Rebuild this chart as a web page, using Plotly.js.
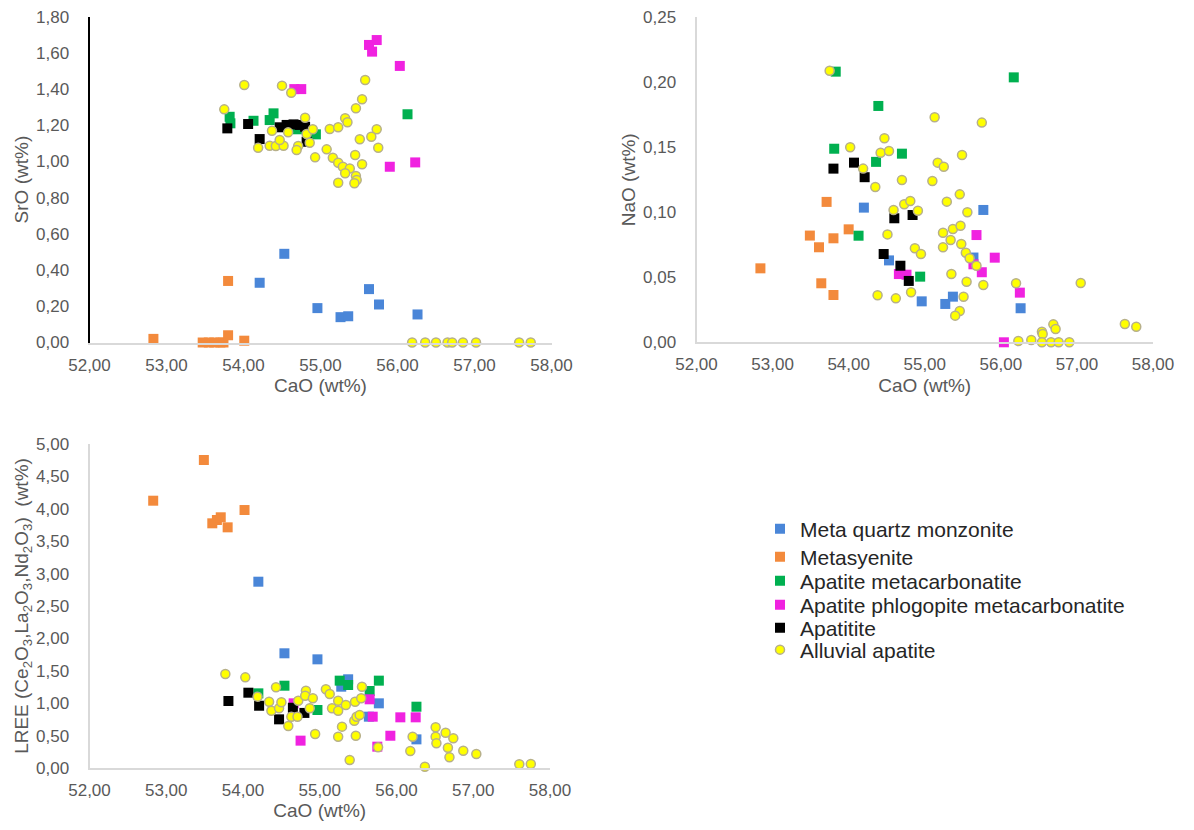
<!DOCTYPE html>
<html>
<head>
<meta charset="utf-8">
<script src="https://cdn.plot.ly/plotly-3.0.1.min.js"></script>
<style>
  html, body { margin: 0; padding: 0; background: #ffffff; }
  #chart { width: 1194px; height: 830px; }
</style>
</head>
<body>
<div id="chart"></div>
<script>
// ---------- series names ----------
const seriesNames = ['Meta quartz monzonite', 'Metasyenite', 'Apatite metacarbonatite',
  'Apatite phlogopite metacarbonatite', 'Apatitite', 'Alluvial apatite'];

// ---------- tick values ----------
const caoTicks = [52, 53, 54, 55, 56, 57, 58];
const sroTicks = [0, 0.2, 0.4, 0.6, 0.8, 1.0, 1.2, 1.4, 1.6, 1.8];
const naoTicks = [0, 0.05, 0.10, 0.15, 0.20, 0.25];
const lreeTicks = [0, 0.5, 1.0, 1.5, 2.0, 2.5, 3.0, 3.5, 4.0, 4.5, 5.0];

// ---------- SrO vs CaO ----------
const sroMqmCaO = [54.21, 54.53, 54.96, 55.26, 55.36, 55.63, 55.76, 56.26];
const sroMqm    = [0.33, 0.49, 0.19, 0.14, 0.145, 0.295, 0.21, 0.155];
const sroMsyCaO = [52.83, 53.47, 53.55, 53.62, 53.70, 53.74, 53.80, 53.80, 54.01];
const sroMsy    = [0.02, 0, 0, 0, 0, 0, 0.04, 0.34, 0.01];
const sroAmcCaO = [53.82, 53.83, 54.13, 54.39, 54.34, 54.70, 54.94, 56.13];
const sroAmc    = [1.247, 1.211, 1.225, 1.266, 1.229, 1.178, 1.150, 1.261];
const sroApmCaO = [55.73, 55.63, 55.67, 56.03, 54.66, 54.75, 55.90, 56.23];
const sroApm    = [1.671, 1.644, 1.607, 1.528, 1.40, 1.40, 0.971, 0.995];
const sroAptCaO = [53.79, 54.06, 54.21, 54.47, 54.56, 54.65, 54.73, 54.80, 54.82];
const sroApt    = [1.183, 1.207, 1.124, 1.189, 1.202, 1.205, 1.202, 1.192, 1.109];
const sroAlvCaO = [54.01, 54.50, 54.62, 55.58, 55.54, 55.46, 53.75, 54.80, 54.37, 54.58,
  54.82, 54.90, 55.12, 55.23, 55.32, 55.35, 55.73, 55.66, 55.51, 55.75,
  54.19, 54.34, 54.42, 54.52, 54.47, 54.71, 54.69, 54.86, 54.93, 55.08,
  55.16, 55.23, 55.29, 55.38, 55.32, 55.46, 55.47, 55.23, 55.44, 55.45,
  55.54, 56.19, 56.36, 56.50, 56.65, 56.71, 56.85, 57.02, 57.58, 57.73];
const sroAlv    = [1.423, 1.419, 1.380, 1.450, 1.344, 1.294, 1.288, 1.242, 1.170, 1.161,
  1.152, 1.178, 1.180, 1.189, 1.239, 1.217, 1.178, 1.137, 1.123, 1.076,
  1.076, 1.087, 1.086, 1.087, 1.119, 1.086, 1.064, 1.104, 1.023, 1.067,
  1.021, 0.993, 0.971, 0.962, 0.935, 0.920, 0.898, 0.883, 0.880, 1.036,
  0.985, 0, 0, 0, 0, 0, 0, 0, 0, 0];

// ---------- NaO vs CaO ----------
const naoMqmCaO = [54.20, 54.53, 54.96, 55.27, 55.37, 55.64, 55.77, 56.26];
const naoMqm    = [0.1036, 0.0630, 0.0315, 0.0295, 0.0351, 0.0652, 0.1018, 0.0262];
const naoMsyCaO = [52.84, 53.49, 53.61, 53.71, 53.80, 53.64, 53.80, 54.00];
const naoMsy    = [0.0569, 0.0821, 0.0731, 0.108, 0.080, 0.0454, 0.0364, 0.0869];
const naoAmcCaO = [53.83, 54.39, 53.81, 54.36, 54.70, 56.17, 54.13, 54.94];
const naoAmc    = [0.2082, 0.1818, 0.1489, 0.1388, 0.1451, 0.2038, 0.082, 0.0505];
const naoApmCaO = [54.66, 54.76, 55.68, 55.92, 55.75, 56.25, 56.04, 55.64];
const naoApm    = [0.0525, 0.0520, 0.0825, 0.0651, 0.0539, 0.0382, 0.0, 0.060];
const naoAptCaO = [53.80, 54.07, 54.21, 54.60, 54.84, 54.46, 54.68, 54.79];
const naoApt    = [0.1336, 0.1382, 0.1270, 0.0954, 0.0979, 0.0679, 0.0589, 0.0472];
const naoAlvCaO = [53.75, 54.02, 54.19, 54.35, 54.47, 54.42, 54.53, 54.59, 54.51, 54.70,
  55.13, 55.75, 55.49, 55.17, 55.25, 55.10, 55.46, 55.29, 55.56, 54.73,
  54.81, 54.91, 55.24, 55.37, 55.47, 55.34, 55.24, 55.48, 55.54, 54.87,
  54.95, 55.59, 55.68, 55.35, 55.55, 55.77, 54.82, 54.62, 54.38, 55.51,
  55.46, 55.40, 56.20, 57.05, 56.54, 56.55, 56.69, 56.72, 57.63, 57.78,
  56.23, 56.40, 56.54, 56.66, 56.76, 56.90];
const naoAlv    = [0.2089, 0.150, 0.1336, 0.1195, 0.1569, 0.1458, 0.1472, 0.1018, 0.0830, 0.1248,
  0.1731, 0.1690, 0.1441, 0.1382, 0.1351, 0.1241, 0.1138, 0.1082, 0.1000, 0.1062,
  0.1087, 0.1012, 0.0843, 0.0872, 0.0897, 0.0787, 0.0731, 0.0756, 0.0689, 0.0723,
  0.0679, 0.0646, 0.0589, 0.0525, 0.0466, 0.0441, 0.0385, 0.0338, 0.0362, 0.0351,
  0.0241, 0.0205, 0.0454, 0.0456, 0.0082, 0.0064, 0.0138, 0.0102, 0.0141, 0.0120,
  0.0010, 0.0018, 0.0, 0.0, 0.0, 0.0];

// ---------- LREE vs CaO ----------
const lreeMqmCaO = [54.20, 54.54, 54.97, 55.37, 55.28, 55.77, 55.64, 56.26];
const lreeMqm    = [2.875, 1.770, 1.677, 1.369, 1.255, 0.998, 0.792, 0.442];
const lreeMsyCaO = [52.83, 53.49, 53.60, 53.66, 53.71, 53.80, 54.02];
const lreeMsy    = [4.125, 4.753, 3.776, 3.827, 3.869, 3.714, 3.981];
const lreeAmcCaO = [54.54, 54.20, 54.97, 55.26, 55.37, 55.65, 55.77, 56.26];
const lreeAmc    = [1.270, 1.152, 0.895, 1.348, 1.281, 1.188, 1.348, 0.946];
const lreeApmCaO = [54.66, 54.75, 55.65, 55.69, 56.05, 56.25, 55.92, 55.75];
const lreeApm    = [0.998, 0.422, 1.060, 0.792, 0.782, 0.782, 0.498, 0.329];
const lreeAptCaO = [53.81, 54.07, 54.21, 54.47, 54.65, 54.80];
const lreeApt    = [1.034, 1.162, 0.961, 0.751, 0.93, 0.85];
const lreeAlvCaO = [53.77, 54.03, 54.19, 54.43, 54.34, 54.37, 54.47, 54.50, 54.59, 54.63,
  54.71, 54.72, 54.82, 54.81, 54.91, 54.87, 54.94, 55.08, 55.13, 55.16,
  55.24, 55.24, 55.34, 55.46, 55.55, 55.54, 55.29, 55.24, 55.47, 55.45,
  55.48, 55.39, 55.52, 55.76, 56.21, 56.18, 56.37, 56.51, 56.51, 56.52,
  56.64, 56.74, 56.67, 56.69, 56.87, 57.04, 57.60, 57.75];
const lreeAlv    = [1.451, 1.399, 1.100, 1.245, 1.023, 0.884, 0.921, 1.014, 0.648, 0.792,
  0.792, 1.039, 1.193, 1.116, 1.076, 0.921, 0.525, 1.214, 1.142, 0.921,
  1.039, 0.884, 0.972, 1.023, 1.255, 1.076, 0.638, 0.483, 0.498, 0.730,
  0.792, 0.123, 0.818, 0.319, 0.483, 0.262, 0.020, 0.628, 0.483, 0.381,
  0.545, 0.458, 0.313, 0.165, 0.267, 0.216, 0.057, 0.062];

// ---------- styles ----------
const styles = [
  {color: '#4a86d8', symbol: 'square', size: 10, line: {width: 0}},
  {color: '#f38a3c', symbol: 'square', size: 10, line: {width: 0}},
  {color: '#00b050', symbol: 'square', size: 10, line: {width: 0}},
  {color: '#f022e0', symbol: 'square', size: 10, line: {width: 0}},
  {color: '#000000', symbol: 'square', size: 10, line: {width: 0}},
  {color: '#ffff00', symbol: 'circle', size: 9, line: {width: 1.5, color: '#b7b08a'}}
];

const panels = [
  {xa: 'x', ya: 'y', data: [[sroMqmCaO, sroMqm], [sroMsyCaO, sroMsy], [sroAmcCaO, sroAmc],
    [sroApmCaO, sroApm], [sroAptCaO, sroApt], [sroAlvCaO, sroAlv]], legend: true},
  {xa: 'x2', ya: 'y2', data: [[naoMqmCaO, naoMqm], [naoMsyCaO, naoMsy], [naoAmcCaO, naoAmc],
    [naoApmCaO, naoApm], [naoAptCaO, naoApt], [naoAlvCaO, naoAlv]], legend: false},
  {xa: 'x3', ya: 'y3', data: [[lreeMqmCaO, lreeMqm], [lreeMsyCaO, lreeMsy], [lreeAmcCaO, lreeAmc],
    [lreeApmCaO, lreeApm], [lreeAptCaO, lreeApt], [lreeAlvCaO, lreeAlv]], legend: false}
];

const legendIds = ['legend', 'legend2', 'legend3', 'legend4', 'legend5', 'legend6'];
const traces = [];
panels.forEach(p => {
  p.data.forEach((d, i) => {
    traces.push({
      type: 'scatter', mode: 'markers',
      x: d[0], y: d[1], xaxis: p.xa, yaxis: p.ya,
      name: seriesNames[i],
      showlegend: p.legend,
      legend: legendIds[i],
      cliponaxis: false,
      marker: styles[i],
      hoverinfo: 'x+y+name'
    });
  });
});

const FONT = 'Liberation Sans, Arial, sans-serif';
const tickFont = {family: FONT, size: 17, color: '#595959'};
const titleFont = {family: FONT, size: 19, color: '#595959'};

function xAxis(domain, anchor) {
  return {
    domain: domain, anchor: anchor, range: [52, 58],
    tickvals: caoTicks, tickformat: '.2f',
    showgrid: false, zeroline: false, showline: true,
    linecolor: '#d9d9d9', linewidth: 1.5, ticks: '',
    ticklabelstandoff: 6,
    tickfont: tickFont,
    title: {text: 'CaO (wt%)', font: titleFont, standoff: 5},
    automargin: false, fixedrange: true
  };
}
function yAxis(domain, anchor, range, ticks, title, lineColor) {
  return {
    domain: domain, anchor: anchor, range: range,
    tickvals: ticks, tickformat: '.2f',
    showgrid: false, zeroline: false, showline: true,
    linecolor: lineColor, linewidth: 2, ticks: '',
    ticklabelstandoff: 15,
    tickfont: tickFont,
    title: {text: title, font: titleFont, standoff: 2},
    automargin: false, fixedrange: true
  };
}

const legendYs = [529, 557, 581, 605, 628, 650];
const layout = {
  width: 1194, height: 830,
  margin: {l: 0, r: 0, t: 0, b: 0},
  paper_bgcolor: '#ffffff', plot_bgcolor: '#ffffff',
  separators: ', ',
  font: {family: FONT},
  hovermode: 'closest',
  xaxis: xAxis([89.5 / 1194, 551.5 / 1194], 'y'),
  yaxis: yAxis([1 - 342.5 / 830, 1 - 16.7 / 830], 'x', [0, 1.8], sroTicks, 'SrO (wt%)', '#000000'),
  xaxis2: xAxis([696.5 / 1194, 1153 / 1194], 'y2'),
  yaxis2: yAxis([1 - 342.3 / 830, 1 - 17.3 / 830], 'x2', [0, 0.25], naoTicks, 'NaO (wt%)', '#d9d9d9'),
  xaxis3: xAxis([89.5 / 1194, 550 / 1194], 'y3'),
  yaxis3: yAxis([1 - 768 / 830, 1 - 444 / 830], 'x3', [0, 5], lreeTicks,
    'LREE (Ce<sub>2</sub>O<sub>3</sub>,La<sub>2</sub>O<sub>3</sub>,Nd<sub>2</sub>O<sub>3</sub>)  (wt%)', '#d9d9d9')
};
legendIds.forEach((id, i) => {
  layout[id] = {
    x: 760 / 1194, xanchor: 'left',
    y: 1 - legendYs[i] / 830, yanchor: 'middle',
    font: {family: FONT, size: 21, color: '#262626'},
    bgcolor: 'rgba(0,0,0,0)', borderwidth: 0
  };
});

Plotly.newPlot('chart', traces, layout, {displayModeBar: false, staticPlot: false});
</script>
</body>
</html>
